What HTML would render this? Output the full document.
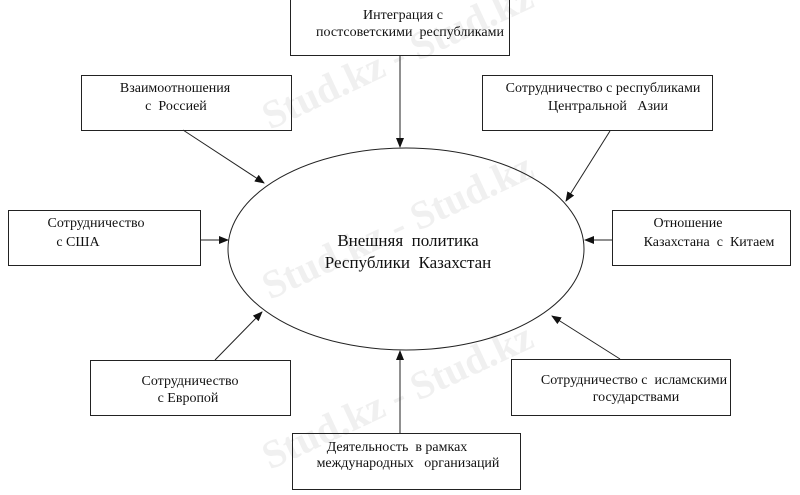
<!DOCTYPE html>
<html><head><meta charset="utf-8"><style>
body{margin:0;background:#fff;width:800px;height:490px;overflow:hidden}
text{font-family:"Liberation Serif",serif;fill:#111;white-space:pre}
</style></head><body>
<svg width="800" height="490" viewBox="0 0 800 490" xmlns="http://www.w3.org/2000/svg">
<defs><marker id="a" markerWidth="10" markerHeight="8" refX="9" refY="4" orient="auto" markerUnits="userSpaceOnUse"><path d="M0,0 L10,4 L0,8 z" fill="#111"/></marker></defs>
<g font-family="Liberation Sans" font-weight="bold" font-size="40">
<text x="270" y="130" transform="rotate(-25 270 130)" style="fill:#f0f0f0">Stud.kz - Stud.kz</text>
<text x="270" y="300" transform="rotate(-25 270 300)" style="fill:#f0f0f0">Stud.kz - Stud.kz</text>
<text x="270" y="470" transform="rotate(-25 270 470)" style="fill:#f0f0f0">Stud.kz - Stud.kz</text>
</g>
<g fill="none" stroke="#222" stroke-width="1">
<rect x="290.5" y="-0.5" width="219" height="56"/>
<rect x="81.5" y="75.5" width="210" height="55"/>
<rect x="8.5" y="210.5" width="192" height="55"/>
<rect x="482.5" y="75.5" width="230" height="55"/>
<rect x="612.5" y="210.5" width="178" height="55"/>
<rect x="90.5" y="360.5" width="200" height="55"/>
<rect x="511.5" y="359.5" width="219" height="56"/>
<rect x="292.5" y="433.5" width="228" height="56"/>
<ellipse cx="406" cy="249" rx="178" ry="101"/>
<line x1="400" y1="56" x2="400" y2="147" marker-end="url(#a)"/>
<line x1="183" y1="130" x2="264" y2="183" marker-end="url(#a)"/>
<line x1="201" y1="240" x2="228" y2="240" marker-end="url(#a)"/>
<line x1="610" y1="131" x2="566" y2="201" marker-end="url(#a)"/>
<line x1="612" y1="240" x2="585" y2="240" marker-end="url(#a)"/>
<line x1="215" y1="360" x2="262" y2="312" marker-end="url(#a)"/>
<line x1="620" y1="359" x2="552" y2="316" marker-end="url(#a)"/>
<line x1="400" y1="433" x2="400" y2="351" marker-end="url(#a)"/>
</g>
<g font-size="14" text-anchor="middle">
<text x="403" y="19">Интеграция с</text>
<text x="410" y="36">постсоветскими  республиками</text>
<text x="175" y="92">Взаимоотношения</text>
<text x="176" y="110">с  Россией</text>
<text x="96" y="227">Сотрудничество</text>
<text x="78" y="246">с США</text>
<text x="603" y="92">Сотрудничество с республиками</text>
<text x="608" y="110">Центральной   Азии</text>
<text x="688" y="227">Отношение</text>
<text x="709" y="246">Казахстана  с  Китаем</text>
<text x="190" y="385">Сотрудничество</text>
<text x="188" y="402">с Европой</text>
<text x="634" y="384">Сотрудничество с  исламскими</text>
<text x="636" y="401">государствами</text>
<text x="397" y="451">Деятельность  в рамках</text>
<text x="408" y="467">международных   организаций</text>
</g>
<g font-size="17" text-anchor="middle">
<text x="408" y="246">Внешняя  политика</text>
<text x="408" y="268">Республики  Казахстан</text>
</g>
</svg>
</body></html>
